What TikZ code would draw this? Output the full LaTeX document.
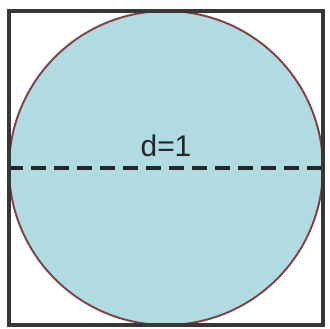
\documentclass[tikz,border=0pt]{standalone}
\usepackage{fontspec}
\setmainfont{Liberation Sans}
\usetikzlibrary{positioning}
\definecolor{skyfill}{RGB}{176,219,224}
\definecolor{rimred}{RGB}{130,65,65}
\definecolor{framegray}{RGB}{55,55,55}

\begin{document}
\begin{tikzpicture}[x=0.02cm,y=-0.02cm]
        \useasboundingbox (0,0) rectangle (330,328);
        \node[circle,draw=rimred,fill=skyfill,line width=1.1pt,minimum size=6.28cm,inner sep=0pt] (disk) at (166,168) {};
        \draw[black!85,line width=2pt,dash pattern=on 0.3cm off 0.16cm] (disk.west) -- (disk.east);
        \draw[framegray,line width=2.2pt] (9,11) rectangle (323,325);
        \node[font=\fontsize{17}{19}\selectfont,text=black!85,above=0.1cm of disk.center] (diam) {d=1};
      \end{tikzpicture}
\end{document}
